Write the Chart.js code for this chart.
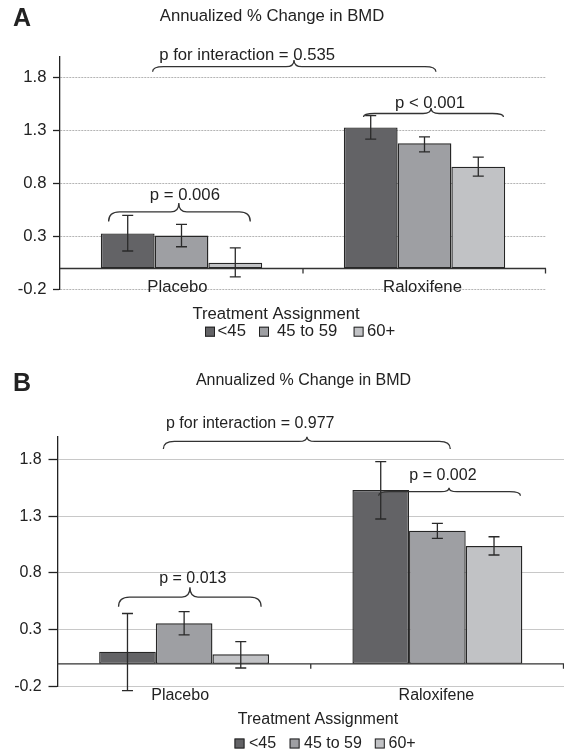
<!DOCTYPE html>
<html>
<head>
<meta charset="utf-8">
<script src="https://cdn.jsdelivr.net/npm/chart.js@4.4.1/dist/chart.umd.min.js"></script>
<style>
  html, body { margin: 0; padding: 0; background: #fff; }
  body { width: 564px; height: 753px; position: relative; overflow: hidden; }
  canvas { position: absolute; left: 0; }
  #chartA { top: 0; }
  #chartB { top: 370px; }
</style>
</head>
<body>
<canvas id="chartA" width="564" height="370"></canvas>
<canvas id="chartB" width="564" height="383"></canvas>
<script>
// Shared
const categories = ['Placebo', 'Raloxifene'];
const ageGroups = ['<45', '45 to 59', '60+'];
const yTicks = [-0.2, 0.3, 0.8, 1.3, 1.8];
const chartTitle = 'Annualized % Change in BMD';
const axisTitle = 'Treatment Assignment';

// Panel A values (placebo, raloxifene)
const aLt45 = [0.33, 1.33];
const a45to59 = [0.31, 1.18];
const a60plus = [0.055, 0.96];
const aLt45Err = [[0.165, 0.50], [1.22, 1.44]];
const a45to59Err = [[0.205, 0.415], [1.10, 1.24]];
const a60plusErr = [[-0.08, 0.195], [0.87, 1.05]];
const aPValues = ['p for interaction = 0.535', 'p = 0.006', 'p < 0.001'];

// Panel B values (placebo, raloxifene)
const bLt45 = [0.107, 1.531];
const b45to59 = [0.357, 1.172];
const b60plus = [0.084, 1.037];
const bLt45Err = [[-0.237, 0.443], [1.275, 1.78]];
const b45to59Err = [[0.254, 0.459], [1.105, 1.237]];
const b60plusErr = [[-0.037, 0.195], [0.958, 1.119]];
const bPValues = ['p for interaction = 0.977', 'p = 0.013', 'p = 0.002'];

const barColors = ['#636366', '#9e9fa3', '#c1c2c5'];
const FONT = '"Liberation Sans", Arial, sans-serif';

// Bracket geometry: u = category units from Placebo centre, v = value units
const aBrackets = [
    { u1: -0.119, u2: 1.047, ut: 0.463, v: 1.902, drop: 5, tip: 6.7, tu: 0.27, tv: 2.012 },
    { u1: -0.300, u2: 0.283, ut: -0.011, v: 0.533, drop: 9.5, tip: 9, tu: 0.014, tv: 0.686 },
    { u1: 0.749, u2: 1.325, ut: 1.027, v: 1.461, drop: 3.5, tip: 5.5, tu: 1.023, tv: 1.56 }
];
const bBrackets = [
    { u1: -0.082, u2: 1.051, ut: 0.485, v: 1.958, drop: 7.5, tip: 4.8, tu: 0.261, tv: 2.118 },
    { u1: -0.259, u2: 0.304, ut: 0.023, v: 0.588, drop: 9.7, tip: 9.7, tu: 0.034, tv: 0.753 },
    { u1: 0.768, u2: 1.328, ut: 1.046, v: 1.516, drop: 4, tip: 4, tu: 1.022, tv: 1.654 }
];

function drawBrace(ctx, x1, x2, xt, y, drop, tip) {
    const r = 11, rt = 8;
    ctx.beginPath();
    ctx.moveTo(x1, y + drop);
    ctx.quadraticCurveTo(x1, y, x1 + r, y);
    ctx.lineTo(xt - rt, y);
    ctx.quadraticCurveTo(xt, y, xt, y - tip);
    ctx.quadraticCurveTo(xt, y, xt + rt, y);
    ctx.lineTo(x2 - r, y);
    ctx.quadraticCurveTo(x2, y, x2, y + drop);
    ctx.stroke();
}

const extras = {
    id: 'extras',
    afterDatasetsDraw(chart) {
        const o = chart.options.plugins.extras;
        const { ctx, chartArea, scales: { x, y } } = chart;
        const c0 = x.getPixelForValue(0);
        const cw = x.getPixelForValue(1) - c0;
        const ux = u => c0 + u * cw;
        const y0 = y.getPixelForValue(0);

        ctx.save();
        ctx.strokeStyle = '#333';
        ctx.lineWidth = 1.3;

        // zero line with category ticks
        ctx.beginPath();
        ctx.moveTo(chartArea.left, y0);
        ctx.lineTo(chartArea.right, y0);
        [0.5, 1.5].forEach(u => {
            const px = Math.min(ux(u), chartArea.right - 0.5);
            ctx.moveTo(px, y0);
            ctx.lineTo(px, y0 + 5);
        });
        ctx.stroke();

        // error bars
        ctx.strokeStyle = '#2a2a2a';
        chart.data.datasets.forEach((ds, i) => {
            chart.getDatasetMeta(i).data.forEach((bar, j) => {
                const lo = y.getPixelForValue(ds.errors[j][0]);
                const hi = y.getPixelForValue(ds.errors[j][1]);
                ctx.beginPath();
                ctx.moveTo(bar.x, lo); ctx.lineTo(bar.x, hi);
                ctx.moveTo(bar.x - 5.5, lo); ctx.lineTo(bar.x + 5.5, lo);
                ctx.moveTo(bar.x - 5.5, hi); ctx.lineTo(bar.x + 5.5, hi);
                ctx.stroke();
            });
        });

        // p-value brackets
        ctx.strokeStyle = '#333';
        ctx.fillStyle = '#222';
        ctx.font = o.fontSize + 'px ' + FONT;
        ctx.textAlign = 'center';
        ctx.textBaseline = 'middle';
        o.brackets.forEach((b, i) => {
            drawBrace(ctx, ux(b.u1), ux(b.u2), ux(b.ut), y.getPixelForValue(b.v), b.drop, b.tip);
            ctx.fillText(o.pValues[i], ux(b.tu), y.getPixelForValue(b.tv));
        });

        // category labels just under the zero line
        categories.forEach((c, i) => ctx.fillText(c, x.getPixelForValue(i) + o.catShift[i], o.catY));

        // titles
        ctx.fillText(chartTitle, o.titleX, o.titleY);
        ctx.fillText(axisTitle, o.axisX, o.axisY);
        ctx.textAlign = 'left';
        ctx.font = 'bold 25px ' + FONT;
        ctx.fillText(o.letter, 13, o.letterY);

        // legend
        ctx.font = o.fontSize + 'px ' + FONT;
        ctx.lineWidth = 1;
        ageGroups.forEach((g, i) => {
            ctx.fillStyle = barColors[i];
            ctx.fillRect(o.legBox[i], o.legY - 5, 10, 10);
            ctx.strokeStyle = '#222';
            ctx.strokeRect(o.legBox[i] + 0.5, o.legY - 4.5, 9, 9);
            ctx.fillStyle = '#222';
            ctx.fillText(g, o.legText[i], o.legY);
        });
        ctx.restore();
    }
};

function makePanel(id, series, errors, p) {
    const datasets = series.map((s, i) => ({
        label: ageGroups[i],
        data: s,
        errors: errors[i],
        backgroundColor: barColors[i],
        borderColor: '#262626',
        borderWidth: 1.4,
        borderSkipped: false,
        categoryPercentage: p.catPct,
        barPercentage: 1
    }));

    return new Chart(document.getElementById(id), {
        type: 'bar',
        data: { labels: categories, datasets },
        plugins: [extras],
        options: {
            responsive: false,
            animation: false,
            layout: { padding: { left: 0, right: p.padRight, top: p.padTop, bottom: 0 } },
            plugins: {
                legend: { display: false },
                tooltip: { enabled: false },
                extras: p
            },
            scales: {
                x: {
                    grid: { display: false },
                    border: { display: false },
                    ticks: { display: false },
                    afterFit: s => { s.height = p.xHeight; }
                },
                y: {
                    min: -0.2,
                    max: 2.0,
                    afterBuildTicks: s => { s.ticks = yTicks.map(v => ({ value: v })); },
                    ticks: {
                        callback: v => v.toFixed(1),
                        color: '#222',
                        padding: p.tickPad,
                        font: { family: FONT, size: p.fontSize }
                    },
                    grid: {
                        color: p.gridColor,
                        lineWidth: 1,
                        tickLength: p.tickLen,
                        tickColor: '#222',
                        tickWidth: 1.3
                    },
                    border: { display: true, color: '#222', width: 1.3, dash: p.gridDash },
                    afterFit: s => { s.width = p.yWidth; }
                }
            }
        }
    });
}

makePanel('chartA', [aLt45, a45to59, a60plus], [aLt45Err, a45to59Err, a60plusErr], {
    letter: 'A', letterY: 19, fontSize: 16.7,
    pValues: aPValues, brackets: aBrackets,
    catPct: 0.664, padRight: 18, padTop: 56.3, xHeight: 80.3, yWidth: 60,
    tickLen: 7, tickPad: 6.5, gridColor: '#b4b4b4', gridDash: [2, 1],
    titleX: 272, titleY: 16, axisX: 276, axisY: 314.5,
    catY: 287.7, catShift: [-4, -2],
    legY: 331.7, legBox: [205, 259, 353.6], legText: [217.6, 277, 367]
});

makePanel('chartB', [bLt45, b45to59, b60plus], [bLt45Err, b45to59Err, b60plusErr], {
    letter: 'B', letterY: 14, fontSize: 16,
    pValues: bPValues, brackets: bBrackets,
    catPct: 0.671, padRight: 0, padTop: 66.7, xHeight: 66.5, yWidth: 57.5,
    tickLen: 9, tickPad: 6.8, gridColor: '#c8c8c8', gridDash: [],
    titleX: 303.5, titleY: 10.5, axisX: 318, axisY: 349.5,
    catY: 325.3, catShift: [-4, -1],
    legY: 373.5, legBox: [234.5, 289.6, 374.8], legText: [249, 304, 388.5]
});
</script>
</body>
</html>
